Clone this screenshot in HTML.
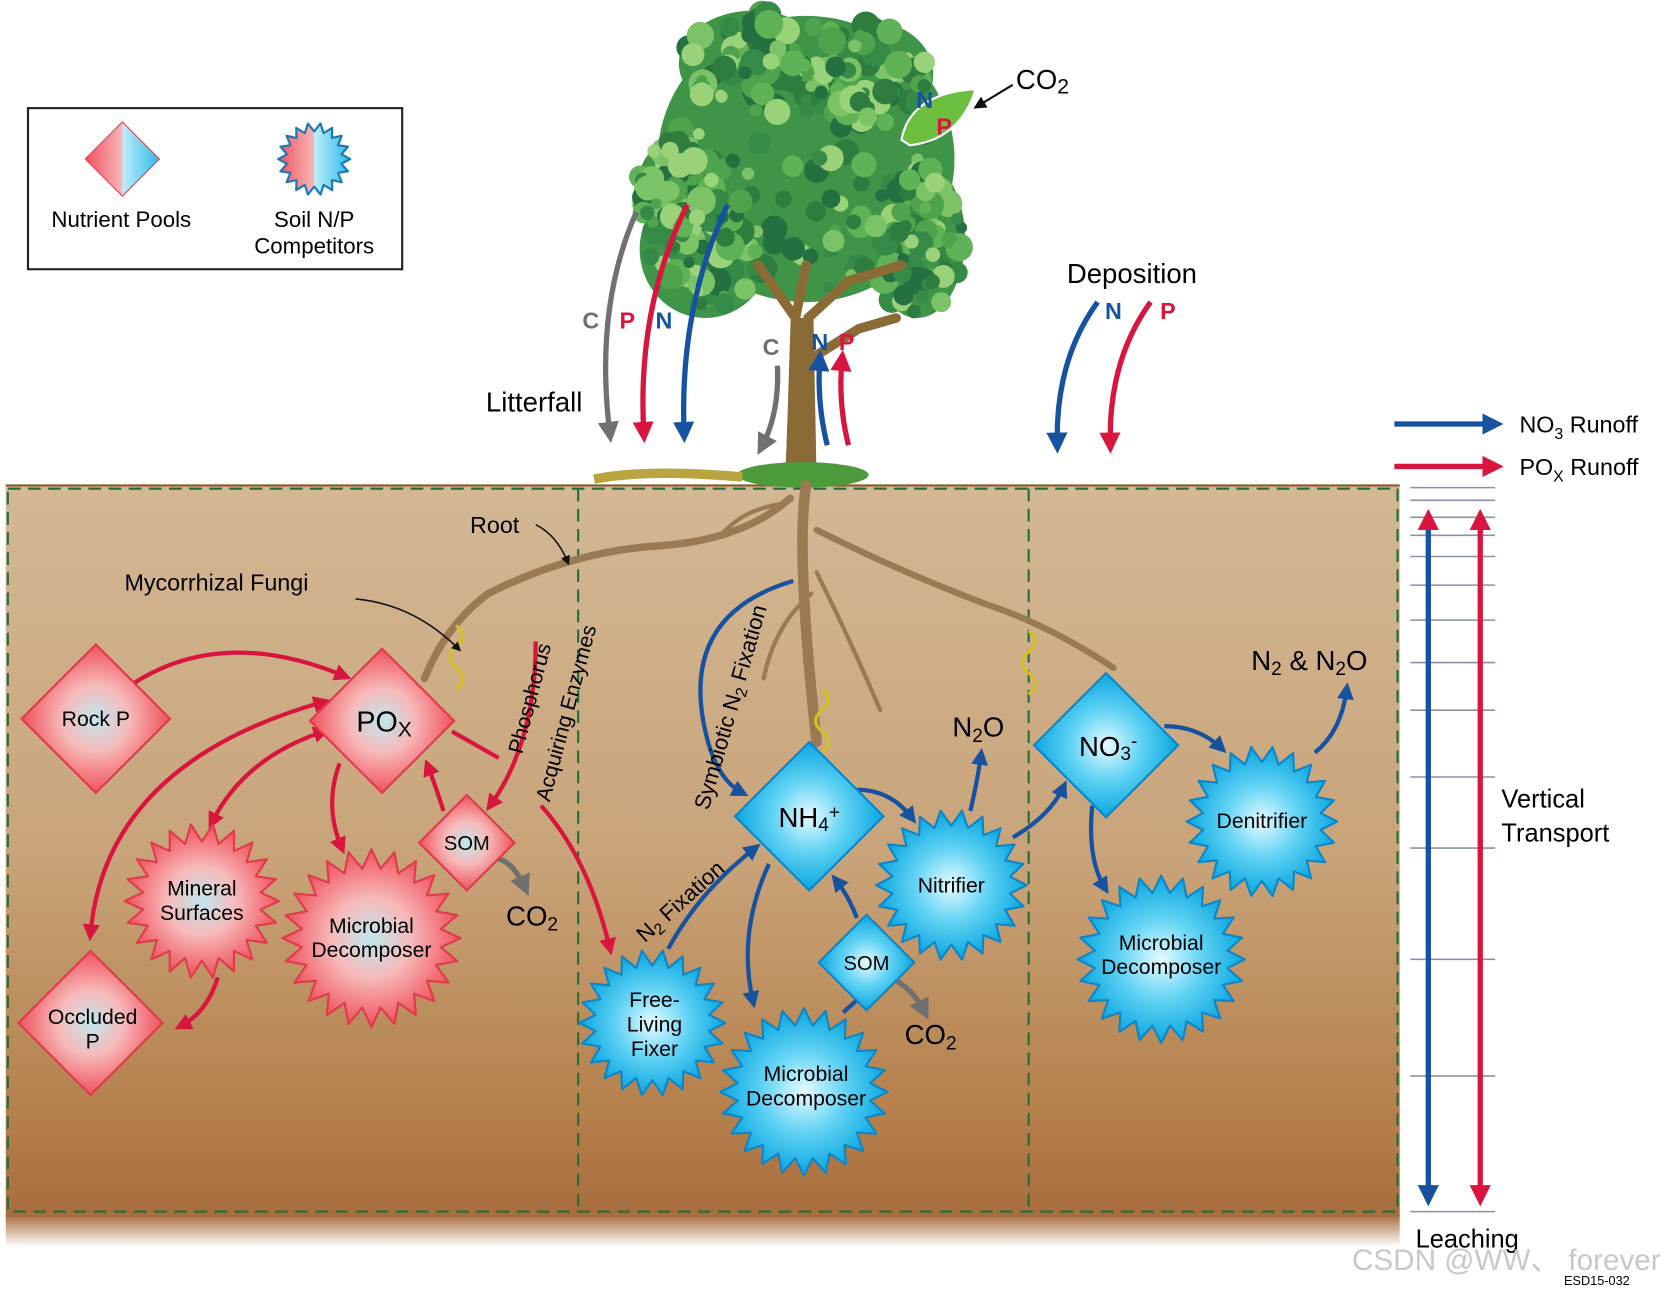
<!DOCTYPE html>
<html><head><meta charset="utf-8"><style>
html,body{margin:0;padding:0;background:#fff;width:1663px;height:1289px;overflow:hidden}
svg{display:block}
text{font-family:"Liberation Sans",sans-serif}
</style></head><body>
<svg id="s" width="1663" height="1289" viewBox="0 0 1568 1216" xmlns="http://www.w3.org/2000/svg">
<defs>
<linearGradient id="soil" x1="0" y1="0" x2="0" y2="1">
<stop offset="0" stop-color="#d2b894"/><stop offset="0.5" stop-color="#c9a47a"/><stop offset="0.85" stop-color="#b5814d"/><stop offset="1" stop-color="#a86d3e"/></linearGradient>
<linearGradient id="fade" x1="0" y1="0" x2="0" y2="1"><stop offset="0" stop-color="#a86d3e"/><stop offset="1" stop-color="#a86d3e" stop-opacity="0"/></linearGradient>
<radialGradient id="pk"><stop offset="0" stop-color="#bfe8ee"/><stop offset="0.45" stop-color="#f7b9b9"/><stop offset="1" stop-color="#f0505c"/></radialGradient>
<radialGradient id="bl"><stop offset="0" stop-color="#e6fbff"/><stop offset="0.5" stop-color="#5fd2f4"/><stop offset="1" stop-color="#0aa6e0"/></radialGradient>
<linearGradient id="lgd" x1="0" y1="0" x2="1" y2="0"><stop offset="0" stop-color="#f0505c"/><stop offset="0.5" stop-color="#f6b8bb"/><stop offset="0.5" stop-color="#bfeefa"/><stop offset="1" stop-color="#2bbbe8"/></linearGradient>
<marker id="ar" viewBox="0 0 10 10" refX="6" refY="5" markerWidth="4" markerHeight="4" orient="auto"><path d="M0 0L10 5L0 10z" fill="#d8153f"/></marker>
<marker id="ab" viewBox="0 0 10 10" refX="6" refY="5" markerWidth="4" markerHeight="4" orient="auto"><path d="M0 0L10 5L0 10z" fill="#1652a0"/></marker>
<marker id="ag" viewBox="0 0 10 10" refX="6" refY="5" markerWidth="4" markerHeight="4" orient="auto"><path d="M0 0L10 5L0 10z" fill="#707070"/></marker>
<marker id="ak" viewBox="0 0 10 10" refX="6" refY="5" markerWidth="6" markerHeight="6" orient="auto"><path d="M0 0L10 5L0 10z" fill="#111"/></marker>
<marker id="arb" viewBox="0 0 10 10" refX="5" refY="5" markerWidth="4" markerHeight="4" orient="auto-start-reverse"><path d="M0 0L10 5L0 10z" fill="#d8153f"/></marker>
</defs>
<!-- soil -->
<rect x="5" y="458" width="1315" height="690" fill="url(#soil)"/>
<rect x="5" y="1146" width="1315" height="30" fill="url(#fade)"/>
<line x1="5" y1="458" x2="1320" y2="458" stroke="#8a5a2a" stroke-width="2"/>
<rect x="7" y="461" width="1311" height="682" fill="none" stroke="#1f6e3c" stroke-width="2" stroke-dasharray="12,7"/>
<line x1="545" y1="461" x2="545" y2="1143" stroke="#1f6e3c" stroke-width="2" stroke-dasharray="12,7"/>
<line x1="970" y1="461" x2="970" y2="1143" stroke="#1f6e3c" stroke-width="2" stroke-dasharray="12,7"/>
<!-- legend -->
<rect x="26" y="102" width="353" height="152" fill="#fff" stroke="#222" stroke-width="2"/>
<polygon points="115,115 150,150 115,185 80,150" fill="url(#lgd)" stroke="#e04050"/>
<g id="lgs"></g>
<text x="114" y="214" font-size="21" text-anchor="middle">Nutrient Pools</text>
<text x="296" y="214" font-size="21" text-anchor="middle">Soil N/P</text>
<text x="296" y="239" font-size="21" text-anchor="middle">Competitors</text>
<!-- tree canopy -->
<g id="canopy"></g>
<path d="M745 455 L750 300 L715 250 M750 300 L760 250 M762 455 L762 300 L800 265 L850 250 M762 340 L810 310 L845 300" stroke="#8a6a35" stroke-width="9" fill="none" stroke-linecap="round"/>
<path d="M740 455 L747 300 L767 300 L770 455z" fill="#8a6a35"/>
<ellipse cx="757" cy="448" rx="62" ry="12" fill="#4d9a3c"/>
<path d="M560 452 Q610 442 700 450" stroke="#b8a540" stroke-width="9" fill="none"/>
<!-- leaf -->
<path d="M850 132 Q858 88 920 84 Q905 132 858 137z" fill="#6cbf3e" stroke="#fff" stroke-width="2"/>
<text x="864" y="102" font-size="22" font-weight="bold" fill="#1652a0">N</text>
<text x="883" y="127" font-size="22" font-weight="bold" fill="#d8153f">P</text>
<line x1="955" y1="80" x2="922" y2="100" stroke="#111" stroke-width="2" marker-end="url(#ak)"/>
<text x="958" y="84" font-size="26">CO<tspan font-size="20" dy="4">2</tspan></text>
<!-- litterfall arrows -->
<path d="M600 200 Q560 290 575 410" stroke="#707070" stroke-width="5" fill="none" marker-end="url(#ag)"/>
<path d="M648 193 Q600 290 607 410" stroke="#d8153f" stroke-width="5" fill="none" marker-end="url(#ar)"/>
<path d="M686 193 Q640 290 645 410" stroke="#1652a0" stroke-width="5" fill="none" marker-end="url(#ab)"/>
<text x="549" y="310" font-size="22" font-weight="bold" fill="#707070">C</text>
<text x="584" y="310" font-size="22" font-weight="bold" fill="#d8153f">P</text>
<text x="618" y="310" font-size="22" font-weight="bold" fill="#1652a0">N</text>
<text x="458" y="388" font-size="26">Litterfall</text>
<path d="M733 345 Q735 390 718 422" stroke="#707070" stroke-width="5" fill="none" marker-end="url(#ag)"/>
<path d="M780 420 Q770 380 773 338" stroke="#1652a0" stroke-width="5" fill="none" marker-end="url(#ab)"/>
<path d="M800 420 Q790 380 794 338" stroke="#d8153f" stroke-width="5" fill="none" marker-end="url(#ar)"/>
<text x="719" y="335" font-size="22" font-weight="bold" fill="#707070">C</text>
<text x="765" y="330" font-size="22" font-weight="bold" fill="#1652a0">N</text>
<text x="791" y="330" font-size="22" font-weight="bold" fill="#d8153f">P</text>
<!-- deposition -->
<text x="1006" y="267" font-size="26">Deposition</text>
<path d="M1035 285 Q995 340 997 420" stroke="#1652a0" stroke-width="5" fill="none" marker-end="url(#ab)"/>
<path d="M1085 285 Q1045 340 1047 420" stroke="#d8153f" stroke-width="5" fill="none" marker-end="url(#ar)"/>
<text x="1042" y="301" font-size="22" font-weight="bold" fill="#1652a0">N</text>
<text x="1094" y="301" font-size="22" font-weight="bold" fill="#d8153f">P</text>
<!-- right side -->
<line x1="1315" y1="400" x2="1410" y2="400" stroke="#1652a0" stroke-width="5" marker-end="url(#ab)"/>
<line x1="1315" y1="440" x2="1410" y2="440" stroke="#d8153f" stroke-width="5" marker-end="url(#ar)"/>
<text x="1433" y="408" font-size="22">NO<tspan font-size="15" dy="6">3</tspan><tspan dy="-6"> Runoff</tspan></text>
<text x="1433" y="448" font-size="22">PO<tspan font-size="15" dy="6">X</tspan><tspan dy="-6"> Runoff</tspan></text>
<g stroke="#8a92a8" stroke-width="1.5" id="ticks"></g>
<line x1="1347" y1="490" x2="1347" y2="1130" stroke="#1652a0" stroke-width="5" marker-start="url(#arb)" marker-end="url(#ab)"/>
<line x1="1396" y1="490" x2="1396" y2="1130" stroke="#d8153f" stroke-width="5" marker-start="url(#arb)" marker-end="url(#ar)"/>
<text x="1416" y="762" font-size="24">Vertical</text>
<text x="1416" y="794" font-size="24">Transport</text>
<text x="1335" y="1177" font-size="24">Leaching</text>
<text x="1275" y="1198" font-size="28" fill="#c8c8c8">CSDN @WW、 forever</text>
<text x="1475" y="1212" font-size="12">ESD15-032</text>
<!-- roots -->
<g stroke="#9a7a52" fill="none" stroke-linecap="round">
<path d="M760 458 Q750 520 770 700" stroke-width="10"/>
<path d="M745 470 Q700 510 620 515 Q540 520 460 560 Q420 590 400 640" stroke-width="7"/>
<path d="M770 500 Q850 540 930 570 Q990 590 1050 630" stroke-width="6"/>
<path d="M770 540 Q800 600 830 670" stroke-width="4"/>
<path d="M765 560 Q730 590 720 640" stroke-width="4"/>
<path d="M740 475 Q700 480 680 505" stroke-width="4"/>
</g>
<path d="M430 590 q12 10 0 20 q-12 10 0 20 q12 10 0 20" stroke="#d4c020" stroke-width="3" fill="none"/>
<path d="M775 650 q12 10 0 20 q-12 10 0 20 q12 10 0 20" stroke="#d4c020" stroke-width="3" fill="none"/>
<path d="M970 595 q12 10 0 20 q-12 10 0 20 q12 10 0 20" stroke="#d4c020" stroke-width="3" fill="none"/>
<text x="443" y="503" font-size="22">Root</text>
<path d="M505 495 Q525 505 535 530" stroke="#111" stroke-width="1.5" fill="none" marker-end="url(#ak)"/>
<text x="117" y="557" font-size="22">Mycorrhizal Fungi</text>
<path d="M335 565 Q390 570 432 612" stroke="#111" stroke-width="1.5" fill="none" marker-end="url(#ak)"/>
<!-- red arrows -->
<g stroke="#d8153f" stroke-width="4" fill="none">
<path d="M125 645 Q210 590 325 638" marker-end="url(#ar)"/>
<path d="M85 880 Q100 720 305 662" marker-end="url(#ar)" marker-start="url(#arb)"/>
<path d="M200 775 Q230 715 305 690" marker-end="url(#ar)" marker-start="url(#arb)"/>
<path d="M320 720 Q305 760 322 800" marker-end="url(#ar)"/>
<path d="M418 765 Q410 740 403 722" marker-end="url(#ar)"/>
<path d="M205 922 Q195 955 170 968" marker-end="url(#ar)"/>
<path d="M505 605 Q505 700 462 760" marker-end="url(#ar)"/>
<path d="M426 690 L470 715"/>
<path d="M510 760 Q555 810 575 895" marker-end="url(#ar)"/>
</g>
<path d="M470 810 Q485 815 495 838" stroke="#707070" stroke-width="5" fill="none" marker-end="url(#ag)"/>
<text x="477" y="873" font-size="26">CO<tspan font-size="18" dy="5">2</tspan></text>
<text transform="translate(492,712) rotate(-75)" font-size="20">Phosphorus</text>
<text transform="translate(518,757) rotate(-75)" font-size="20">Acquiring Enzymes</text>
<!-- blue arrows -->
<g stroke="#1652a0" stroke-width="4" fill="none">
<path d="M748 548 Q640 580 665 690 Q675 735 700 748" marker-end="url(#ab)"/>
<path d="M630 895 Q660 840 712 800" marker-end="url(#ab)"/>
<path d="M725 815 Q695 880 710 945" marker-end="url(#ab)"/>
<path d="M795 955 L812 940"/>
<path d="M808 866 Q800 845 788 830" marker-end="url(#ab)"/>
<path d="M808 745 Q840 745 860 772" marker-end="url(#ab)"/>
<path d="M915 765 Q922 735 925 712" marker-end="url(#ab)"/>
<path d="M955 790 Q990 770 1003 742" marker-end="url(#ab)"/>
<path d="M1098 685 Q1130 685 1152 706" marker-end="url(#ab)"/>
<path d="M1030 760 Q1025 810 1042 838" marker-end="url(#ab)"/>
<path d="M1240 710 Q1265 690 1270 650" marker-end="url(#ab)"/>
</g>
<path d="M845 925 Q862 935 872 955" stroke="#707070" stroke-width="5" fill="none" marker-end="url(#ag)"/>
<text x="853" y="985" font-size="26">CO<tspan font-size="18" dy="5">2</tspan></text>
<text x="898" y="695" font-size="26">N<tspan font-size="18" dy="5">2</tspan><tspan dy="-5">O</tspan></text>
<text x="1180" y="632" font-size="26">N<tspan font-size="18" dy="5">2</tspan><tspan dy="-5"> &amp; N</tspan><tspan font-size="18" dy="5">2</tspan><tspan dy="-5">O</tspan></text>
<text transform="translate(668,765) rotate(-74)" font-size="21">Symbiotic N<tspan font-size="15" dy="4">2</tspan><tspan dy="-4"> Fixation</tspan></text>
<text transform="translate(608,890) rotate(-42)" font-size="21">N<tspan font-size="15" dy="4">2</tspan><tspan dy="-4"> Fixation</tspan></text>
<!-- nodes -->
<g id="nodes"></g>
</svg>
<script>
var NS="http://www.w3.org/2000/svg";
function el(p,t,a){var e=document.createElementNS(NS,t);for(var k in a)e.setAttribute(k,a[k]);p.appendChild(e);return e;}
function star(p,cx,cy,r,n,fill,stroke,sp){var pts=[];for(var i=0;i<2*n;i++){var a=Math.PI*i/n;var rr=i%2?r:r+sp;pts.push((cx+rr*Math.cos(a)).toFixed(1)+","+(cy+rr*Math.sin(a)).toFixed(1));}
el(p,"polygon",{points:pts.join(" "),fill:fill,stroke:stroke,"stroke-width":2,"stroke-linejoin":"round"});}
function dia(p,cx,cy,r,fill,stroke){el(p,"polygon",{points:[cx,cy-r,cx+r,cy,cx,cy+r,cx-r,cy].join(","),fill:fill,stroke:stroke,"stroke-width":2});}
function txt(p,x,y,s,lines){lines.forEach(function(l,i){var t=el(p,"text",{x:x,y:y+i*s*1.15,"font-size":s,"text-anchor":"middle"});t.innerHTML=l;});}
// canopy
var cg=document.getElementById("canopy");
var seed=7;function rnd(){seed=(seed*9301+49297)%233280;return seed/233280;}
var blobs=[[760,150,140,135],[665,235,62,65],[865,225,45,75],[710,60,70,50],[820,70,60,50],[640,180,40,50]];
blobs.forEach(function(b){el(cg,"ellipse",{cx:b[0],cy:b[1],rx:b[2],ry:b[3],fill:"#3f9448"});});
var cols=["#2f7d3e","#4ea34c","#7cc266","#9ad27a","#358a48","#5fb256","#247040"];
for(var i=0;i<420;i++){var b=blobs[Math.floor(rnd()*blobs.length)];var a=rnd()*6.283,r=Math.sqrt(rnd());
var x=b[0]+Math.cos(a)*r*b[2]*0.95,y=b[1]+Math.sin(a)*r*b[3]*0.95;
el(cg,"circle",{cx:x.toFixed(1),cy:y.toFixed(1),r:(5+rnd()*9).toFixed(1),fill:cols[Math.floor(rnd()*cols.length)]});}
var g=document.getElementById("nodes");
var lg=document.getElementById("lgs");
star(lg,296,150,26,18,"url(#lgd)","#1a7ab0",8);
var tk=document.getElementById("ticks");
[460,472,488,505,525,552,585,625,670,733,800,905,1015,1143].forEach(function(y){el(tk,"line",{x1:1330,y1:y,x2:1410,y2:y});});
var P="url(#pk)",PS="#e03a4c",B="url(#bl)",BS="#0c86c8";
dia(g,90,678,70,P,PS);txt(g,90,685,20,["Rock P"]);
dia(g,360,680,68,P,PS);txt(g,362,690,27,['PO<tspan font-size="20" dy="5">X</tspan>']);
dia(g,440,795,45,P,PS);txt(g,440,802,19,["SOM"]);
dia(g,85,965,68,P,PS);txt(g,87,966,20,["Occluded","P"]);
star(g,190,850,56,22,P,PS,17);txt(g,190,845,20,["Mineral","Surfaces"]);
star(g,350,885,66,24,P,PS,18);txt(g,350,880,20,["Microbial","Decomposer"]);
dia(g,763,770,70,B,BS);txt(g,763,780,26,['NH<tspan font-size="18" dy="4">4</tspan><tspan font-size="18" dy="-12">+</tspan>']);
dia(g,817,908,45,B,BS);txt(g,817,915,19,["SOM"]);
dia(g,1043,703,68,B,BS);txt(g,1045,713,26,['NO<tspan font-size="18" dy="4">3</tspan><tspan font-size="18" dy="-12">-</tspan>']);
star(g,615,965,54,22,B,BS,15);txt(g,617,950,20,["Free-","Living","Fixer"]);
star(g,758,1030,63,24,B,BS,16);txt(g,760,1020,20,["Microbial","Decomposer"]);
star(g,897,835,56,22,B,BS,15);txt(g,897,842,20,["Nitrifier"]);
star(g,1190,775,56,22,B,BS,15);txt(g,1190,781,20,["Denitrifier"]);
star(g,1095,905,63,24,B,BS,16);txt(g,1095,896,20,["Microbial","Decomposer"]);
</script>
</body></html>
